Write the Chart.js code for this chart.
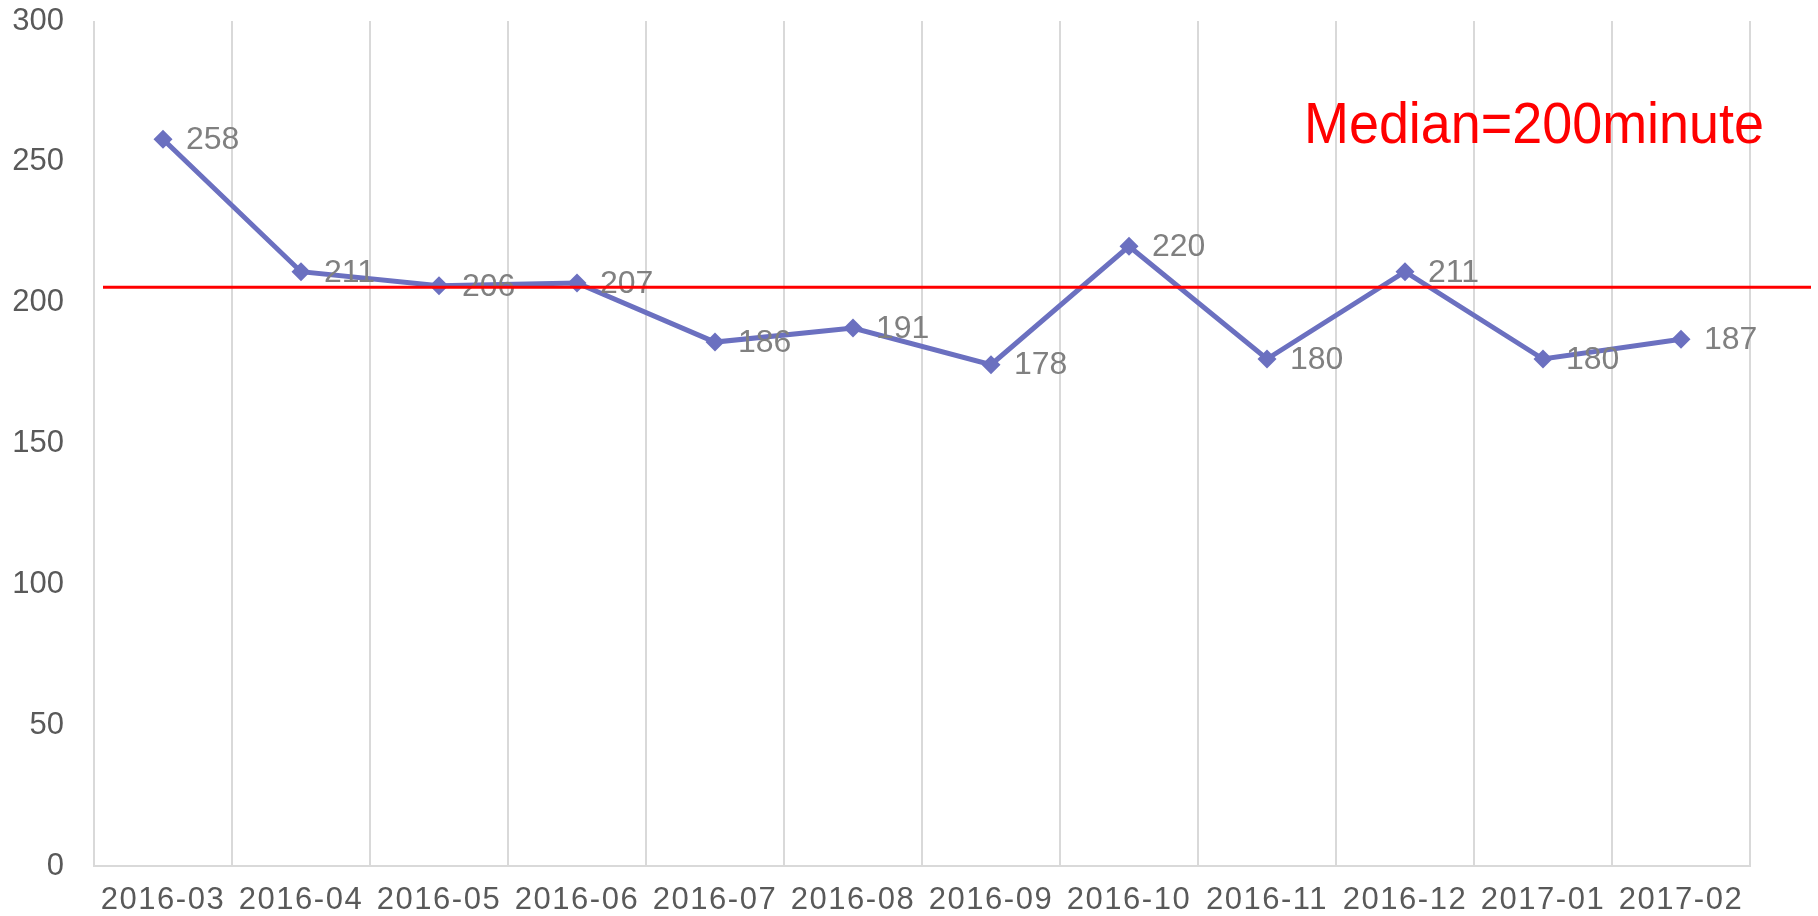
<!DOCTYPE html>
<html>
<head>
<meta charset="utf-8">
<script src="https://cdn.jsdelivr.net/npm/chart.js@4/dist/chart.umd.min.js"></script>
<style>
html,body{margin:0;padding:0;background:#fff;}
#wrap{width:1818px;height:916px;position:relative;}
</style>
</head>
<body>
<div id="wrap"><canvas id="c" width="1818" height="916"></canvas></div>
<script>
const categories = ['2016-03','2016-04','2016-05','2016-06','2016-07','2016-08','2016-09','2016-10','2016-11','2016-12','2017-01','2017-02'];
const minutes = [258, 211, 206, 207, 186, 191, 178, 220, 180, 211, 180, 187];
const medianLineValue = 205.5;
const medianLabel = 'Median=200minute';
const yMin = 0, yMax = 300, yStep = 50;

const FONT = '"Liberation Sans", Arial, sans-serif';

const overlay = {
  id: 'overlay',
  afterLayout(chart) {
    const s = chart.scales.x;
    if (!s._wrapped) {
      const orig = s.drawLabels.bind(s);
      s.drawLabels = function(area) {
        const c = this.ctx; c.save(); c.letterSpacing = '1.5px'; orig(area); c.restore();
      };
      s._wrapped = true;
    }
  },
  afterDatasetsDraw(chart) {
    const ctx = chart.ctx;
    const y = chart.scales.y;
    const meta = chart.getDatasetMeta(0);
    ctx.save();
    // data labels
    ctx.font = '32px ' + FONT;
    ctx.fillStyle = '#808080';
    ctx.textAlign = 'left';
    ctx.textBaseline = 'middle';
    meta.data.forEach((pt, i) => {
      ctx.fillText(String(minutes[i]), pt.x + 23, pt.y + 1);
    });
    // median line
    const py = y.getPixelForValue(medianLineValue);
    ctx.strokeStyle = '#ff0000';
    ctx.lineWidth = 3;
    ctx.beginPath();
    ctx.moveTo(chart.chartArea.left + 9, py);
    ctx.lineTo(1811, py);
    ctx.stroke();
    // label
    ctx.font = '58px ' + FONT;
    ctx.fillStyle = '#ff0000';
    ctx.textBaseline = 'alphabetic';
    const w = ctx.measureText(medianLabel).width;
    const sx = 460 / w;
    ctx.translate(1304, 143);
    ctx.scale(sx, 1);
    ctx.fillText(medianLabel, 0, 0);
    ctx.restore();
  }
};

new Chart(document.getElementById('c'), {
  type: 'line',
  data: {
    labels: categories,
    datasets: [{
      data: minutes,
      borderColor: '#6b70c0',
      backgroundColor: '#6b70c0',
      borderWidth: 5,
      pointStyle: 'rectRot',
      pointRadius: 9.5,
      pointHoverRadius: 9.5,
      pointBorderWidth: 0,
      tension: 0,
      fill: false
    }]
  },
  options: {
    responsive: false,
    animation: false,
    events: [],
    layout: { padding: { top: 21, right: 68, left: 0, bottom: 0 } },
    plugins: { legend: { display: false }, tooltip: { enabled: false }, title: { display: false } },
    scales: {
      x: {
        offset: true,
        grid: { display: true, offset: true, color: '#d9d9d9', lineWidth: 2, drawTicks: false },
        border: { display: true, color: '#d9d9d9', width: 2 },
        ticks: { color: '#595959', font: { size: 31, family: FONT }, padding: 16, maxRotation: 0, autoSkip: false },
        afterFit(s) { s.height = 50; s.paddingLeft = 0; s.paddingRight = 0; }
      },
      y: {
        min: yMin, max: yMax,
        grid: { display: false, drawTicks: false },
        border: { display: false },
        ticks: { stepSize: yStep, color: '#595959', font: { size: 31, family: FONT }, padding: 30 },
        afterFit(s) { s.width = 94; s.paddingTop = 0; s.paddingBottom = 0; }
      }
    }
  },
  plugins: [overlay]
});
</script>
</body>
</html>
